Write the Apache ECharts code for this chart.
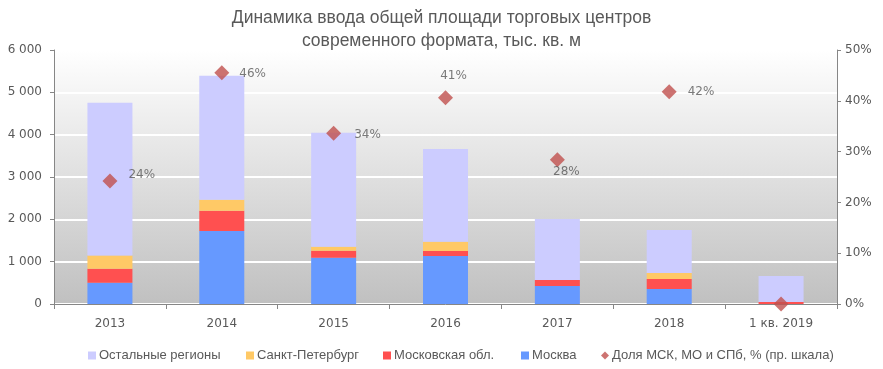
<!DOCTYPE html>
<html><head><meta charset="utf-8">
<script src="https://cdn.jsdelivr.net/npm/echarts@6/dist/echarts.min.js"></script>
<style>html,body{margin:0;padding:0;background:#fff}#c{width:883px;height:369px}</style>
</head><body><div id="c"></div>
<script>
const categories = ['2013','2014','2015','2016','2017','2018','1 кв. 2019'];
const moscow = [500, 1725, 1090, 1135, 425, 355, 0];
const moscowObl = [330, 475, 165, 118, 142, 236, 50];
const spb = [315, 260, 95, 220, 0, 142, 0];
const others = [3610, 2930, 2695, 2190, 1440, 1015, 612];
const share = [24.2, 45.5, 33.6, 40.6, 28.4, 41.8, 0];
const leftTicks = [0, 1000, 2000, 3000, 4000, 5000, 6000];
const rightTicks = [0, 10, 20, 30, 40, 50];

const names = ['Москва','Московская обл.','Санкт-Петербург','Остальные регионы','Доля МСК, МО и СПб, % (пр. шкала)'];
const colors = ['#6699FF','#FF5050','#FFC966','#CCCCFF','#C0504D'];
const labelCfg = [
  {position:'right', offset:[6,-6]},
  {position:'right', offset:[5,1]},
  {position:'right', offset:[8,2]},
  {position:'top', offset:[8,-3]},
  {position:'bottom', offset:[9,-6]},
  {position:'right', offset:[6,0]},
  {show:false}
];
const txt = '#595959';
const font = "'Liberation Sans Narrow', 'Liberation Sans', sans-serif";
const tickFont = "'DejaVu Sans', sans-serif";

const chart = echarts.init(document.getElementById('c'), null, {renderer:'canvas'});
const barData = [moscow, moscowObl, spb, others];
const series = barData.map((d,i)=>({
  name: names[i], type:'bar', stack:'s', data:d, barWidth:45,
  itemStyle:{color:colors[i]}, yAxisIndex:0
}));
series.push({
  name: names[4], type:'scatter', yAxisIndex:1, symbol:'diamond', symbolSize:[15,15],
  itemStyle:{color:colors[4]}, z:5,
  data: share.map((v,i)=>({value:v, label:Object.assign({show:true}, labelCfg[i])})),
  label:{show:true, color:txt, fontSize:12, fontFamily:tickFont, formatter:p=>Math.round(p.value)+'%'}
});
const legendLeft = [83, 241, 378, 516, 596];
const legendOrder = [3,2,1,0,4];
const legends = legendOrder.map((si,k)=>({
  data:[names[si]], left:legendLeft[k], top:344, itemWidth:8, itemHeight:8, itemGap:4,
  icon: si===4 ? 'diamond' : 'rect',
  textStyle:{color:txt, fontSize:13, fontFamily:font, padding:[0,0,0,-2]},
  selectedMode:false
}));
chart.setOption({
  animation:false,
  title:{text:'Динамика ввода общей площади торговых центров\nсовременного формата, тыс. кв. м', left:'center', top:2,
    textStyle:{color:txt, fontSize:17.5, fontWeight:'normal', fontFamily:font, lineHeight:23}},
  grid:{left:54, right:46, top:50, bottom:65, show:true, borderWidth:0,
    backgroundColor:new echarts.graphic.LinearGradient(0,0,0,1,[{offset:0,color:'#ffffff'},{offset:1,color:'#c0c0c0'}])},
  legend:legends,
  xAxis:{type:'category', data:categories,
    axisLine:{lineStyle:{color:'#868686'}}, axisTick:{show:true, length:5, lineStyle:{color:'#868686'}},
    axisLabel:{color:txt, fontSize:12, fontFamily:tickFont, margin:14}},
  yAxis:[
    {type:'value', min:leftTicks[0], max:leftTicks[leftTicks.length-1], interval:1000,
     axisLine:{show:true, lineStyle:{color:'#868686'}}, axisTick:{show:true, length:4, lineStyle:{color:'#868686'}},
     splitLine:{lineStyle:{color:'#ffffff', width:2}},
     axisLabel:{color:txt, fontSize:12, fontFamily:tickFont, margin:12, formatter:v=>v>=1000?String(v).replace(/(\d)(\d{3})$/,'$1 $2'):String(v)}},
    {type:'value', min:rightTicks[0], max:rightTicks[rightTicks.length-1], interval:10,
     axisLine:{show:true, lineStyle:{color:'#868686'}}, axisTick:{show:true, length:4, lineStyle:{color:'#868686'}},
     splitLine:{show:false},
     axisLabel:{color:txt, fontSize:12, fontFamily:tickFont, margin:8, formatter:'{value}%'}}
  ],
  series:series
});
</script></body></html>
